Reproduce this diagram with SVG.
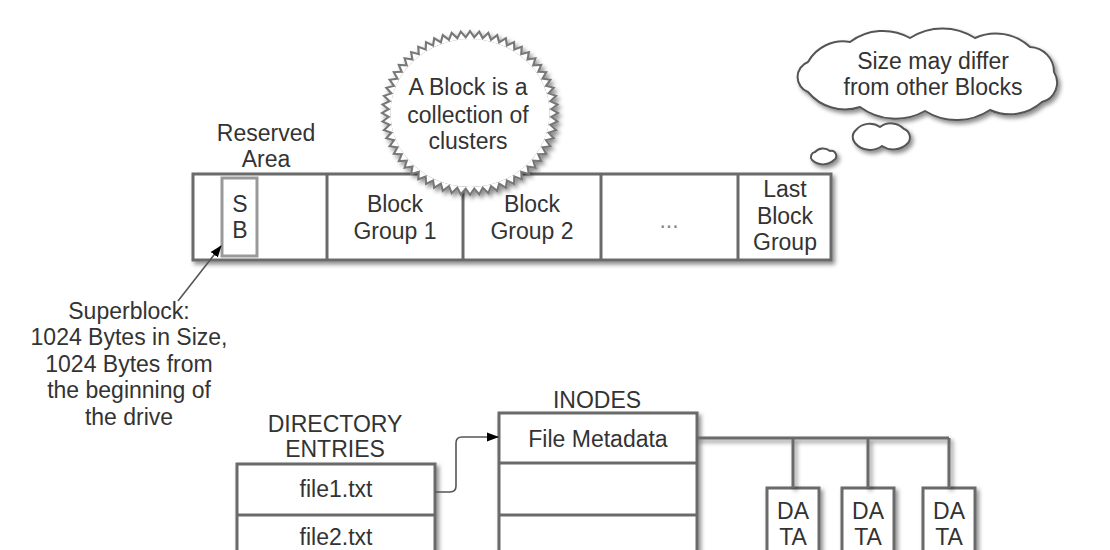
<svg xmlns="http://www.w3.org/2000/svg" xmlns:xlink="http://www.w3.org/1999/xlink" width="1110" height="550" viewBox="0 0 1110 550">
<style>
text{font-family:"Liberation Sans",Arial,sans-serif;font-size:23px;fill:#333;text-anchor:middle}
.box{fill:#fff;stroke:#6a6a6a;stroke-width:3}
.ln{fill:none;stroke:#6a6a6a;stroke-width:3}
.sb{fill:#fff;stroke:#999;stroke-width:3}
.cloud{fill:#fff;stroke:#555;stroke-width:2}
.conn{fill:none;stroke:#555;stroke-width:1.6}
.dots{fill:#888}
</style>
<defs>
<filter id="sh" filterUnits="userSpaceOnUse" x="0" y="0" width="1110" height="550">
<feDropShadow dx="2.5" dy="3" stdDeviation="2" flood-color="#000" flood-opacity="0.45"/>
</filter>
<marker id="arr" markerWidth="12" markerHeight="10" refX="11" refY="5" orient="auto" markerUnits="userSpaceOnUse">
<path d="M0,0.5 L12,5 L0,9.5 Z" fill="#000"/>
</marker>
<polygon id="tooth" points="-3.873,-73.9 0,-80 3.873,-73.9"/>
<g id="starShape">
<circle cx="0" cy="0" r="74"/>
<use xlink:href="#tooth" transform="rotate(0)"/><use xlink:href="#tooth" transform="rotate(6)"/><use xlink:href="#tooth" transform="rotate(12)"/><use xlink:href="#tooth" transform="rotate(18)"/><use xlink:href="#tooth" transform="rotate(24)"/><use xlink:href="#tooth" transform="rotate(30)"/><use xlink:href="#tooth" transform="rotate(36)"/><use xlink:href="#tooth" transform="rotate(42)"/><use xlink:href="#tooth" transform="rotate(48)"/><use xlink:href="#tooth" transform="rotate(54)"/>
<use xlink:href="#tooth" transform="rotate(60)"/><use xlink:href="#tooth" transform="rotate(66)"/><use xlink:href="#tooth" transform="rotate(72)"/><use xlink:href="#tooth" transform="rotate(78)"/><use xlink:href="#tooth" transform="rotate(84)"/><use xlink:href="#tooth" transform="rotate(90)"/><use xlink:href="#tooth" transform="rotate(96)"/><use xlink:href="#tooth" transform="rotate(102)"/><use xlink:href="#tooth" transform="rotate(108)"/><use xlink:href="#tooth" transform="rotate(114)"/>
<use xlink:href="#tooth" transform="rotate(120)"/><use xlink:href="#tooth" transform="rotate(126)"/><use xlink:href="#tooth" transform="rotate(132)"/><use xlink:href="#tooth" transform="rotate(138)"/><use xlink:href="#tooth" transform="rotate(144)"/><use xlink:href="#tooth" transform="rotate(150)"/><use xlink:href="#tooth" transform="rotate(156)"/><use xlink:href="#tooth" transform="rotate(162)"/><use xlink:href="#tooth" transform="rotate(168)"/><use xlink:href="#tooth" transform="rotate(174)"/>
<use xlink:href="#tooth" transform="rotate(180)"/><use xlink:href="#tooth" transform="rotate(186)"/><use xlink:href="#tooth" transform="rotate(192)"/><use xlink:href="#tooth" transform="rotate(198)"/><use xlink:href="#tooth" transform="rotate(204)"/><use xlink:href="#tooth" transform="rotate(210)"/><use xlink:href="#tooth" transform="rotate(216)"/><use xlink:href="#tooth" transform="rotate(222)"/><use xlink:href="#tooth" transform="rotate(228)"/><use xlink:href="#tooth" transform="rotate(234)"/>
<use xlink:href="#tooth" transform="rotate(240)"/><use xlink:href="#tooth" transform="rotate(246)"/><use xlink:href="#tooth" transform="rotate(252)"/><use xlink:href="#tooth" transform="rotate(258)"/><use xlink:href="#tooth" transform="rotate(264)"/><use xlink:href="#tooth" transform="rotate(270)"/><use xlink:href="#tooth" transform="rotate(276)"/><use xlink:href="#tooth" transform="rotate(282)"/><use xlink:href="#tooth" transform="rotate(288)"/><use xlink:href="#tooth" transform="rotate(294)"/>
<use xlink:href="#tooth" transform="rotate(300)"/><use xlink:href="#tooth" transform="rotate(306)"/><use xlink:href="#tooth" transform="rotate(312)"/><use xlink:href="#tooth" transform="rotate(318)"/><use xlink:href="#tooth" transform="rotate(324)"/><use xlink:href="#tooth" transform="rotate(330)"/><use xlink:href="#tooth" transform="rotate(336)"/><use xlink:href="#tooth" transform="rotate(342)"/><use xlink:href="#tooth" transform="rotate(348)"/><use xlink:href="#tooth" transform="rotate(354)"/>
</g>
</defs>
<rect width="1110" height="550" fill="#fff"/>

<g id="block-bar">
<rect class="box" x="193" y="174" width="638" height="86" filter="url(#sh)"/>
<line class="ln" x1="327" y1="174" x2="327" y2="260"/>
<line class="ln" x1="463" y1="174" x2="463" y2="260"/>
<line class="ln" x1="601" y1="174" x2="601" y2="260"/>
<line class="ln" x1="738" y1="174" x2="738" y2="260"/>
</g>

<g id="reserved-area">
<text x="266" y="141">Reserved</text>
<text x="266" y="167">Area</text>
</g>

<g id="superblock-box">
<rect class="sb" x="222" y="178" width="35" height="78"/>
<text x="240" y="212">S</text>
<text x="240" y="238">B</text>
</g>

<g id="block-group-1">
<text x="395" y="212">Block</text>
<text x="395" y="239">Group 1</text>
</g>

<g id="block-group-2">
<text x="532" y="212">Block</text>
<text x="532" y="239">Group 2</text>
</g>

<g id="block-group-more">
<text class="dots" x="669" y="228">...</text>
</g>

<g id="last-block-group">
<text x="785" y="197">Last</text>
<text x="785" y="224">Block</text>
<text x="785" y="250">Group</text>
</g>

<g id="starburst">
<g filter="url(#sh)">
<g transform="translate(470,113) scale(1.075,1)">
<use xlink:href="#starShape" fill="#777" stroke="#777" stroke-width="4"/>
<use xlink:href="#starShape" fill="#fff" stroke="none"/>
</g>
</g>
<text x="468" y="95">A Block is a</text>
<text x="468" y="123">collection of</text>
<text x="468" y="149">clusters</text>
</g>

<g id="thought-cloud">
<path class="cloud" filter="url(#sh)" d="M808,92 A16,16 0 0 1 808,62 A40,40 0 0 1 850,42 A55,55 0 0 1 910,38 A60,60 0 0 1 975,38 A50,50 0 0 1 1030,47 A25,25 0 0 1 1054,72 A20,20 0 0 1 1042,102 A48,48 0 0 1 990,110 A60,60 0 0 1 925,111 A60,60 0 0 1 860,107 A48,48 0 0 1 808,92 Z"/>
<path class="cloud" filter="url(#sh)" d="M855,143 A9,9 0 0 1 856,130 A18,18 0 0 1 880,127 A18,18 0 0 1 904,129 A9,9 0 0 1 908,143 A20,20 0 0 1 882,146 A20,20 0 0 1 855,143 Z"/>
<path class="cloud" filter="url(#sh)" d="M812,160 A5,5 0 0 1 815,152 A11,11 0 0 1 830,151 A5,5 0 0 1 834,160 A16,16 0 0 1 812,160 Z"/>
<text x="933" y="69">Size may differ</text>
<text x="933" y="95">from other Blocks</text>
</g>

<g id="superblock-note">
<text x="129" y="319">Superblock:</text>
<text x="129" y="345">1024 Bytes in Size,</text>
<text x="129" y="372">1024 Bytes from</text>
<text x="129" y="398">the beginning of</text>
<text x="129" y="425">the drive</text>
</g>

<g id="directory-entries">
<text x="335" y="432">DIRECTORY</text>
<text x="335" y="457">ENTRIES</text>
<rect class="box" x="237" y="464" width="198" height="130" filter="url(#sh)"/>
<line class="ln" x1="237" y1="515" x2="435" y2="515"/>
<line class="ln" x1="237" y1="567" x2="435" y2="567"/>
<text x="336" y="497">file1.txt</text>
<text x="336" y="545">file2.txt</text>
</g>

<g id="inodes">
<text x="597" y="408">INODES</text>
<rect class="box" x="499" y="413" width="198" height="180" filter="url(#sh)"/>
<line class="ln" x1="499" y1="463" x2="697" y2="463"/>
<line class="ln" x1="499" y1="515" x2="697" y2="515"/>
<line class="ln" x1="499" y1="567" x2="697" y2="567"/>
<text x="598" y="447">File Metadata</text>
</g>

<g id="data-1">
<rect class="box" x="767" y="488" width="52" height="100" filter="url(#sh)"/>
<text x="793" y="519">DA</text>
<text x="793" y="545">TA</text>
</g>
<g id="data-2">
<rect class="box" x="842" y="488" width="52" height="100" filter="url(#sh)"/>
<text x="868" y="519">DA</text>
<text x="868" y="545">TA</text>
</g>
<g id="data-3">
<rect class="box" x="923" y="488" width="52" height="100" filter="url(#sh)"/>
<text x="949" y="519">DA</text>
<text x="949" y="545">TA</text>
</g>

<g id="connectors">
<line class="conn" x1="178" y1="301" x2="221" y2="246" marker-end="url(#arr)"/>
<path class="conn" d="M435,492 H450 Q456,492 456,486 V443 Q456,437 462,437 H498" marker-end="url(#arr)"/>
<path class="ln" filter="url(#sh)" d="M697,438 H949 M793,438 V488 M868,438 V488 M949,438 V488"/>
</g>
</svg>
